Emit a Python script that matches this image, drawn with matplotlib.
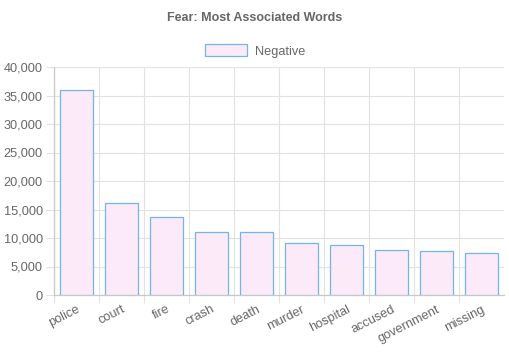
import matplotlib
matplotlib.use("Agg")
import matplotlib.pyplot as plt
from matplotlib.patches import Patch
import numpy as np

categories = ["police", "court", "fire", "crash", "death", "murder",
              "hospital", "accused", "government", "missing"]
values = [35900, 16200, 13750, 11100, 11000, 9100, 8750, 7850, 7700, 7450]
yticks = [0, 5000, 10000, 15000, 20000, 25000, 30000, 35000, 40000]
series_name = "Negative"
title = "Fear: Most Associated Words"

plt.rcParams['font.family'] = ['Liberation Sans', 'DejaVu Sans']

fig = plt.figure(figsize=(5.1, 3.55), dpi=100)
ax = fig.add_axes([54/510, 1-295/355, 450/510, 228/355])

fill = '#fdeaf8'
edge = '#6fb6ee'
x = np.arange(len(categories))
ax.bar(x, values, width=0.72, color=fill, edgecolor=edge, linewidth=0.9, zorder=3)

ax.set_xlim(-0.5, len(categories) - 0.5)
ax.set_ylim(0, 40000)
ax.set_yticks(yticks)
ax.set_yticklabels([f"{v:,}" for v in yticks])
ax.set_xticks(x)
ax.set_xticklabels(categories, rotation=27, ha='right', rotation_mode='anchor')
ax.set_xticks(np.arange(-0.5, len(categories) - 0.5, 1.0), minor=True)

gc = '#e2e2e2'
ax.grid(True, axis='y', which='major', color=gc, linewidth=0.8, zorder=0)
ax.grid(True, axis='x', which='minor', color=gc, linewidth=0.8, zorder=0)
ax.tick_params(axis='x', which='major', length=0, labelsize=9.2, colors='#666666', pad=6)
ax.tick_params(axis='x', which='minor', length=6, color=gc, width=0.8)
ax.tick_params(axis='y', which='major', length=6, color=gc, width=0.8, labelsize=9.2,
               labelcolor='#666666', pad=2)
for s in ['top', 'right']:
    ax.spines[s].set_visible(False)
for s in ['left', 'bottom']:
    ax.spines[s].set_color('#c8c8c8')
    ax.spines[s].set_linewidth(0.9)

fig.text(0.5, 1 - 18/355, title, ha='center', va='center', fontsize=9,
         fontweight='bold', color='#666666')
leg = fig.legend(handles=[Patch(facecolor=fill, edgecolor=edge, linewidth=0.9, label=series_name)],
                 loc='center', bbox_to_anchor=(255/510, 1 - 51/355), frameon=False,
                 fontsize=9.2, handlelength=3.3, handleheight=1.0, handletextpad=0.6)
for t in leg.get_texts():
    t.set_color('#666666')

fig.savefig("out.png", dpi=100)
